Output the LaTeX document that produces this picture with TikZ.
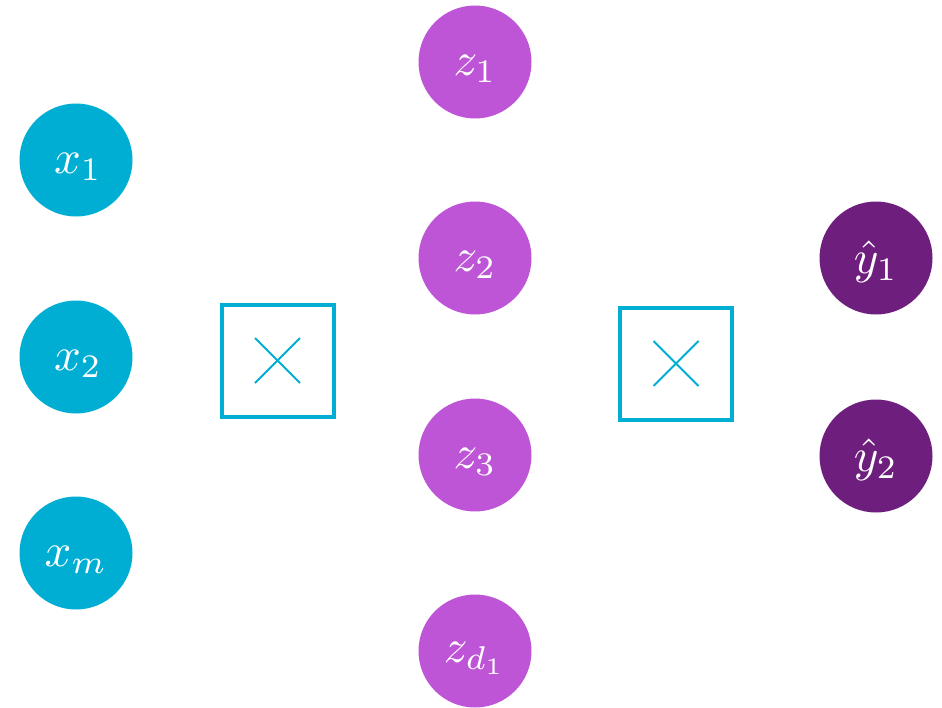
\documentclass[tikz,border=0pt]{standalone}
\usepackage{graphicx}
\definecolor{cblue}{RGB}{0,174,212}
\definecolor{cpurple}{RGB}{190,85,214}
\definecolor{cdark}{RGB}{110,30,124}
\newcommand{\biglabel}[1]{\scalebox{4.7}{$#1$}}
\begin{document}
\begin{tikzpicture}[x=1pt,y=-1pt,
  neuron/.style={circle,minimum size=113pt,inner sep=0pt},
  inp/.style={neuron,fill=cblue},
  hid/.style={neuron,fill=cpurple},
  outn/.style={neuron,fill=cdark},
  lbl/.style={text=white,inner sep=0pt},
  mulbox/.style={draw=cblue,line width=4pt,minimum size=112pt,inner sep=0pt},
  crossline/.style={draw=cblue,line width=2pt}]
\useasboundingbox (0,0) rectangle (942,707);
\node[inp] (x1) at (76,160) {};
\node[inp] (x2) at (76,357) {};
\node[inp] (xm) at (76,553) {};
\node[mulbox] (m1) at (277.5,360.5) {};
\node[mulbox] (m2) at (676,363.5) {};
\foreach \m in {m1,m2}{
  \draw[crossline] ([shift={(-22.5,-22.5)}]\m.center) -- ([shift={(22.5,22.5)}]\m.center);
  \draw[crossline] ([shift={(-22.5,22.5)}]\m.center) -- ([shift={(22.5,-22.5)}]\m.center);
}
\node[hid] (z1) at (475,62) {};
\node[hid] (z2) at (475,258) {};
\node[hid] (z3) at (475,455) {};
\node[hid] (zd) at (475,651) {};
\node[outn] (y1) at (876,258) {};
\node[outn] (y2) at (876,456) {};
\node[lbl] (x1t) at ([shift={(2,7)}]x1.center) {\biglabel{x_1}};
\node[lbl] (x2t) at ([shift={(2,7)}]x2.center) {\biglabel{x_2}};
\node[lbl] (xmt) at ([shift={(0,7)}]xm.center) {\biglabel{x_m}};
\node[lbl] (z1t) at ([shift={(0,7)}]z1.center) {\biglabel{z_1}};
\node[lbl] (z2t) at ([shift={(0,7)}]z2.center) {\biglabel{z_2}};
\node[lbl] (z3t) at ([shift={(0,7)}]z3.center) {\biglabel{z_3}};
\node[lbl] (zdt) at ([shift={(0,7)}]zd.center) {\biglabel{z_{d_1}}};
\node[lbl] (y1t) at ([shift={(0,4)}]y1.center) {\biglabel{\hat{y}_1}};
\node[lbl] (y2t) at ([shift={(0,4)}]y2.center) {\biglabel{\hat{y}_2}};
\end{tikzpicture}
\end{document}
